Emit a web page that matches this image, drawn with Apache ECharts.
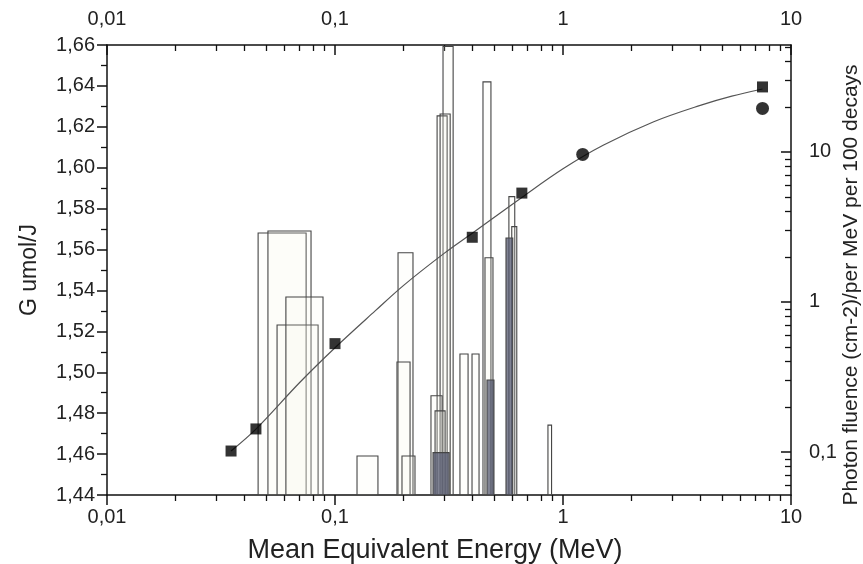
<!DOCTYPE html>
<html>
<head>
<meta charset="utf-8">
<script src="https://cdn.jsdelivr.net/npm/echarts@6/dist/echarts.min.js"></script>
<style>
html,body{margin:0;padding:0;background:#fff;}
#chart{width:863px;height:564px;}
</style>
</head>
<body>
<div id="chart"></div>
<script>
// ---- data ----
const energyMajorTicks = [0.01, 0.1, 1, 10];
const energyMinorTicks = [0.02,0.03,0.04,0.05,0.06,0.07,0.08,0.09,0.2,0.3,0.4,0.5,0.6,0.7,0.8,0.9,2,3,4,5,6,7,8,9];
const fluenceMajorTicks = [0.1, 1, 10];
const fluenceMinorTicks = [0.06,0.07,0.08,0.09,0.2,0.3,0.4,0.5,0.6,0.7,0.8,0.9,2,3,4,5,6,7,8,9,20,30,40,50];

// fitted curve
const fitEnergy = [0.035, 0.045, 0.07, 0.1, 0.15, 0.2, 0.3, 0.4, 0.66, 1.0, 1.5, 2.5, 4.0, 5.5, 7.5];
const fitG      = [1.4615, 1.4722, 1.4950, 1.5120, 1.5300, 1.5425, 1.5580, 1.5680, 1.5855, 1.5995, 1.6110, 1.6225, 1.6305, 1.6350, 1.6385];

// measured points
const squareEnergy = [0.035, 0.045, 0.1, 0.4, 0.66, 7.5];
const squareG      = [1.4615, 1.4723, 1.514, 1.566, 1.5876, 1.6395];
const circleEnergy = [1.22, 7.5];
const circleG      = [1.6065, 1.629];

// photon spectrum bins (low edge, high edge, fluence)
const binLow  = [0.0460,0.0508,0.0557,0.0609,0.1249,0.189,0.187,0.1967,0.2977,0.2804,0.2890,0.2636,0.2747,0.2691,0.3532,0.399,0.4457,0.4548,0.464,0.579,0.596,0.5623,0.859];
const binHigh = [0.0747,0.0785,0.0843,0.0886,0.1543,0.2198,0.2134,0.2243,0.3297,0.3103,0.3200,0.2950,0.3040,0.3167,0.3834,0.4283,0.483,0.493,0.498,0.6143,0.627,0.602,0.891];
const binFluence = [2.88,2.97,0.703,1.08,0.094,2.13,0.398,0.094,50.4,17.4,17.9,0.237,0.188,0.099,0.450,0.450,29.3,1.97,0.302,5.04,3.18,2.67,0.151];

// ---- presentation ----
const shadedBins = [13, 18, 21];
const FONT = 'Liberation Sans, Arial, sans-serif';
const fluenceMin = 0.0517, fluenceMax = 51.6;
const comma = v => String(v).replace('.', ',');
const fmtE = v => { const r = Math.round(v * 1000) / 1000; return comma(r); };

const binData = binLow.map((lo, i) => [lo, binHigh[i], binFluence[i], i]);

const axisLineStyle = {show: true, lineStyle: {color: '#111', width: 1.5}};
const labelStyle = {color: '#222', fontSize: 20, fontFamily: FONT};
const majorTick = (inside) => ({show: true, inside: inside, length: 10, lineStyle: {color: '#111', width: 1.5}});
const minorTickVals = (inside, vals) => ({show: true, inside: inside, length: 6, customValues: vals, lineStyle: {color: '#111', width: 1.3}});

const chart = echarts.init(document.getElementById('chart'), null, {renderer: 'canvas'});
chart.setOption({
  animation: false,
  backgroundColor: '#fff',
  grid: {left: 107, right: 72, top: 45, bottom: 69, containLabel: false, outerBoundsMode: 'none'},
  xAxis: [
    { type: 'log', logBase: 10, min: 0.01, max: 10, position: 'bottom',
      axisLine: axisLineStyle,
      axisTick: majorTick(false),
      axisLabel: Object.assign({formatter: fmtE, margin: 12}, labelStyle),
      splitLine: {show: false},
      name: 'Mean Equivalent Energy (MeV)', nameLocation: 'middle', nameGap: 42,
      nameTextStyle: {fontSize: 27, color: '#222', fontFamily: FONT, padding: [0, 28, 0, 0]}
    },
    { type: 'log', logBase: 10, min: 0.01, max: 10, position: 'bottom',
      axisLine: {show: false},
      axisTick: minorTickVals(false, energyMinorTicks),
      axisLabel: {show: false}, splitLine: {show: false}
    },
    { type: 'log', logBase: 10, min: 0.01, max: 10, position: 'top',
      axisLine: axisLineStyle,
      axisTick: majorTick(true),
      axisLabel: Object.assign({formatter: fmtE, margin: 16}, labelStyle),
      splitLine: {show: false}
    },
    { type: 'log', logBase: 10, min: 0.01, max: 10, position: 'top',
      axisLine: {show: false},
      axisTick: minorTickVals(true, energyMinorTicks),
      axisLabel: {show: false}, splitLine: {show: false}
    }
  ],
  yAxis: [
    { type: 'value', min: 1.44, max: 1.66, interval: 0.02, position: 'left',
      axisLine: axisLineStyle,
      axisTick: majorTick(false),
      minorTick: {show: true, splitNumber: 2, length: 6, lineStyle: {color: '#111', width: 1.3}},
      axisLabel: Object.assign({formatter: v => v.toFixed(2).replace('.', ','), margin: 12}, labelStyle),
      splitLine: {show: false},
      name: 'G umol/J', nameLocation: 'middle', nameGap: 66,
      nameTextStyle: {fontSize: 23, color: '#222', fontFamily: FONT}
    },
    { type: 'log', logBase: 10, min: fluenceMin, max: fluenceMax, position: 'right',
      axisLine: axisLineStyle,
      axisTick: Object.assign(majorTick(true), {customValues: fluenceMajorTicks}),
      axisLabel: Object.assign({formatter: fmtE, margin: 18, customValues: fluenceMajorTicks}, labelStyle),
      splitLine: {show: false},
      name: 'Photon fluence (cm-2)/per MeV per 100 decays', nameLocation: 'middle', nameGap: 50,
      nameMoveOverlap: false,
      nameTextStyle: {fontSize: 21, color: '#222', fontFamily: FONT, padding: [0, 30, 0, 0]}
    },
    { type: 'log', logBase: 10, min: fluenceMin, max: fluenceMax, position: 'right',
      axisLine: {show: false},
      axisTick: minorTickVals(true, fluenceMinorTicks),
      axisLabel: {show: false}, splitLine: {show: false}
    }
  ],
  series: [
    { type: 'custom', xAxisIndex: 0, yAxisIndex: 1, clip: true,
      encode: {x: [0, 1], y: 2},
      data: binData,
      renderItem: function (params, api) {
        const lo = api.value(0), hi = api.value(1), top = api.value(2), idx = api.value(3);
        const p1 = api.coord([lo, top]);
        const p2 = api.coord([hi, fluenceMin]);
        const shaded = shadedBins.indexOf(idx) >= 0;
        return {
          type: 'rect',
          shape: {x: p1[0], y: p1[1], width: p2[0] - p1[0], height: p2[1] - p1[1]},
          style: {fill: shaded ? 'rgba(85,90,112,0.75)' : 'rgba(250,250,238,0.15)', stroke: '#454545', lineWidth: 1.1}
        };
      }
    },
    { type: 'line', xAxisIndex: 0, yAxisIndex: 0, smooth: 0.35, showSymbol: false,
      data: fitEnergy.map((e, i) => [e, fitG[i]]),
      lineStyle: {color: '#555', width: 1.2}, z: 3
    },
    { type: 'scatter', xAxisIndex: 0, yAxisIndex: 0, symbol: 'rect', symbolSize: 11,
      data: squareEnergy.map((e, i) => [e, squareG[i]]),
      itemStyle: {color: '#000'}, z: 4
    },
    { type: 'scatter', xAxisIndex: 0, yAxisIndex: 0, symbol: 'circle', symbolSize: 13,
      data: circleEnergy.map((e, i) => [e, circleG[i]]),
      itemStyle: {color: '#000'}, z: 4
    }
  ]
});
</script>
</body>
</html>
